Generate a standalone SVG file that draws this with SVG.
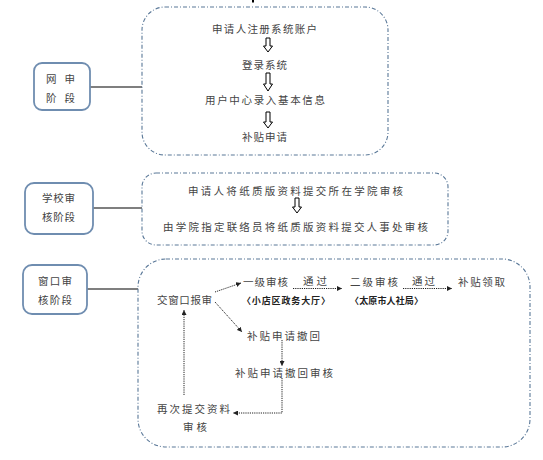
<svg xmlns="http://www.w3.org/2000/svg" width="543" height="460" viewBox="0 0 543 460">
<defs>
<style>
.t{font-family:"Noto Sans CJK SC","Liberation Sans",sans-serif;font-size:10.5px;fill:#444;}
.s{font-family:"Noto Sans CJK SC","Liberation Sans",sans-serif;font-size:9px;font-weight:bold;fill:#222;}
.stage{fill:#fff;stroke:#6f8db0;stroke-width:1.8;}
.area{fill:none;stroke:#5a7898;stroke-width:1.1;stroke-dasharray:4 2 1 2;}
.link{stroke:#000;stroke-width:1.2;fill:none;}
.dot{stroke:#222;stroke-width:1;fill:none;stroke-dasharray:1.2 1;marker-end:url(#ah);}
.dotn{stroke:#222;stroke-width:1;fill:none;stroke-dasharray:1.2 1;}
.ha{fill:#fff;stroke:#000;stroke-width:1;}
</style>
<marker id="ah" viewBox="0 0 6 6" refX="6" refY="3" markerWidth="5" markerHeight="5" orient="auto" markerUnits="userSpaceOnUse">
<path d="M0,0 L6,3 L0,6 z" fill="#222"/>
</marker>
</defs>
<rect width="543" height="460" fill="#fff"/>
<rect x="252" y="0" width="2" height="2.5" fill="#000"/>

<g id="connectors">
<line class="link" x1="90" y1="87" x2="142" y2="87"/>
<line class="link" x1="93" y1="208" x2="142" y2="208"/>
<line class="link" x1="87" y1="289" x2="138" y2="289"/>
<path class="dot" d="M215,292 L241,283"/>
<path class="dot" d="M215,302 L242,332"/>
<path class="dot" d="M293,288.5 L342,288.5"/>
<path class="dot" d="M403,288.5 L452,288.5"/>
<path class="dot" d="M282,340 L282,366"/>
<path class="dot" d="M282,378 L282,413 L233,413"/>
<path class="dot" d="M184,395 L184,310"/>
</g>

<g id="stage1">
<rect class="stage" x="34" y="63" width="56" height="47" rx="8"/>
<text class="t" x="46" y="83" textLength="29" lengthAdjust="spacing">网 申</text>
<text class="t" x="46" y="102" textLength="29" lengthAdjust="spacing">阶 段</text>
</g>
<g id="area1">
<rect class="area" x="142" y="7" width="246" height="148" rx="23"/>
<text class="t" x="212" y="33" textLength="105" lengthAdjust="spacing">申请人注册系统账户</text>
<path class="ha" d="M266,38 h4 v8 h2.5 l-4.5,6 l-4.5,-6 h2.5 z"/>
<text class="t" x="242" y="69" textLength="45" lengthAdjust="spacing">登录系统</text>
<path class="ha" d="M266,73 h4 v11 h2.5 l-4.5,7 l-4.5,-7 h2.5 z"/>
<text class="t" x="205" y="104" textLength="120" lengthAdjust="spacing">用户中心录入基本信息</text>
<path class="ha" d="M266,112 h4 v10 h2.5 l-4.5,6 l-4.5,-6 h2.5 z"/>
<text class="t" x="242" y="141" textLength="45" lengthAdjust="spacing">补贴申请</text>
</g>

<g id="stage2">
<rect class="stage" x="25" y="183" width="68" height="51" rx="9"/>
<text class="t" x="42" y="202" textLength="33" lengthAdjust="spacing">学校审</text>
<text class="t" x="42" y="221" textLength="33" lengthAdjust="spacing">核阶段</text>
</g>
<g id="area2">
<rect class="area" x="142" y="173" width="306" height="72" rx="14"/>
<text class="t" x="188" y="195" textLength="215" lengthAdjust="spacing">申请人将纸质版资料提交所在学院审核</text>
<path class="ha" d="M295,198 h4 v9 h2.5 l-4.5,6 l-4.5,-6 h2.5 z"/>
<text class="t" x="163" y="231" textLength="265" lengthAdjust="spacing">由学院指定联络员将纸质版资料提交人事处审核</text>
</g>

<g id="stage3">
<rect class="stage" x="23" y="265" width="64" height="49" rx="9"/>
<text class="t" x="38" y="285" textLength="34" lengthAdjust="spacing">窗口审</text>
<text class="t" x="38" y="304" textLength="34" lengthAdjust="spacing">核阶段</text>
</g>
<g id="area3">
<rect class="area" x="138" y="259" width="392" height="188" rx="28"/>
</g>
<g id="submit"><text class="t" x="157" y="304" textLength="55" lengthAdjust="spacing">交窗口报审</text></g>
<g id="level1">
<text class="t" x="243" y="286" textLength="45" lengthAdjust="spacing">一级审核</text>
<text class="s" x="242" y="303.5" textLength="88" lengthAdjust="spacing">〈小店区政务大厅〉</text>
</g>
<g id="pass1"><text class="t" x="303" y="285" textLength="24" lengthAdjust="spacing">通过</text></g>
<g id="level2">
<text class="t" x="350" y="286" textLength="48" lengthAdjust="spacing">二级审核</text>
<text class="s" x="350" y="303.5" textLength="73" lengthAdjust="spacing">〈太原市人社局〉</text>
</g>
<g id="pass2"><text class="t" x="412" y="285" textLength="23" lengthAdjust="spacing">通过</text></g>
<g id="receive"><text class="t" x="458" y="286" textLength="47" lengthAdjust="spacing">补贴领取</text></g>
<g id="withdraw"><text class="t" x="247" y="340" textLength="73" lengthAdjust="spacing">补贴申请撤回</text></g>
<g id="withdraw-review"><text class="t" x="235" y="377" textLength="98" lengthAdjust="spacing">补贴申请撤回审核</text></g>
<g id="resubmit">
<text class="t" x="157" y="413" textLength="73" lengthAdjust="spacing">再次提交资料</text>
<text class="t" x="183" y="431" textLength="24" lengthAdjust="spacing">审核</text>
</g>
</svg>
